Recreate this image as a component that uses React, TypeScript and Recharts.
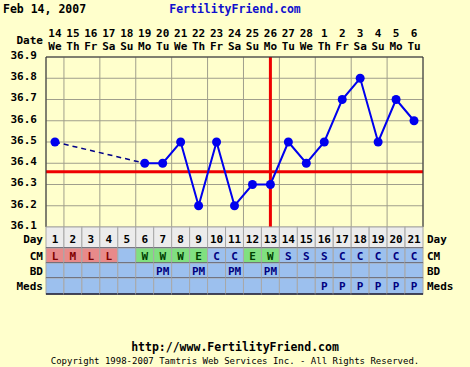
import React from 'react';
import {
  ComposedChart,
  Line,
  XAxis,
  YAxis,
  CartesianGrid,
  ReferenceLine,
} from 'recharts';

const cycleDays = [1, 2, 3, 4, 5, 6, 7, 8, 9, 10, 11, 12, 13, 14, 15, 16, 17, 18, 19, 20, 21];
const dates = ['14', '15', '16', '17', '18', '19', '20', '21', '22', '23', '24', '25', '26', '27', '28', '1', '2', '3', '4', '5', '6'];
const weekdays = ['We', 'Th', 'Fr', 'Sa', 'Su', 'Mo', 'Tu', 'We', 'Th', 'Fr', 'Sa', 'Su', 'Mo', 'Tu', 'We', 'Th', 'Fr', 'Sa', 'Su', 'Mo', 'Tu'];
const temps: (number | null)[] = [36.5, null, null, null, null, 36.4, 36.4, 36.5, 36.2, 36.5, 36.2, 36.3, 36.3, 36.5, 36.4, 36.5, 36.7, 36.8, 36.5, 36.7, 36.6];
const cervicalMucus = ['L', 'M', 'L', 'L', '', 'W', 'W', 'W', 'E', 'C', 'C', 'E', 'W', 'S', 'S', 'S', 'C', 'C', 'C', 'C', 'C'];
const intercourse = ['', '', '', '', '', '', 'PM', '', 'PM', '', 'PM', '', 'PM', '', '', '', '', '', '', '', ''];
const meds = ['', '', '', '', '', '', '', '', '', '', '', '', '', '', '', 'P', 'P', 'P', 'P', 'P', 'P'];
const tempTicks = [36.1, 36.2, 36.3, 36.4, 36.5, 36.6, 36.7, 36.8, 36.9];
const coverline = 36.36;
const ovulationDay = 13;

const W = 470;
const H = 367;
const LEFT_W = 46;
const RIGHT_W = 47;
const TOP_H = 57;
const TABLE_H = 67;
const PLOT_W = W - LEFT_W - RIGHT_W;
const CELL_W = PLOT_W / cycleDays.length;

const FONT = '"DejaVu Sans Mono", monospace';
const BG = '#ffffcc';
const BLUE_CELL = '#9cc0ee';
const NAVY = '#000080';

// dashed segment bridges the days with no temperature
const gapLine = temps.map((t, i) => {
  if (t == null) return null;
  const prevMissing = i > 0 && temps[i - 1] == null;
  const nextMissing = i < temps.length - 1 && temps[i + 1] == null;
  return prevMissing || nextMissing ? t : null;
});

const data = cycleDays.map((day, i) => ({ day, temp: temps[i], gap: gapLine[i] }));
const gridTicks = [...cycleDays.map((d) => d - 0.5), cycleDays[cycleDays.length - 1] + 0.5];

function cmColors(v: string) {
  if (v === 'L' || v === 'M' || v === 'H') return { fill: '#e88a8a', text: '#800000' };
  if (v === 'W' || v === 'E') return { fill: '#80e080', text: '#004000' };
  return { fill: BLUE_CELL, text: NAVY };
}

function DateTick(props: any) {
  const { x, y, index } = props;
  return (
    <g fontFamily={FONT} fontWeight="bold" fontSize={11} fill="#000">
      <text x={x} y={y - 20} textAnchor="middle">{dates[index]}</text>
      <text x={x} y={y - 7} textAnchor="middle">{weekdays[index]}</text>
      {index === 0 && (
        <text x={x - CELL_W / 2 - 3} y={y - 13} textAnchor="end">Date</text>
      )}
    </g>
  );
}

const rows = [
  { label: 'Day', h: 21 },
  { label: 'CM', h: 15 },
  { label: 'BD', h: 15 },
  { label: 'Meds', h: 16 },
];

function TableTick(props: any) {
  const { x, y, index } = props;
  const left = x - CELL_W / 2;
  const right = x + CELL_W / 2;
  const cm = cmColors(cervicalMucus[index]);
  const values = [String(cycleDays[index]), cervicalMucus[index], intercourse[index], meds[index]];
  const fills = ['#ececec', cm.fill, BLUE_CELL, BLUE_CELL];
  const textColors = ['#000', cm.text, NAVY, NAVY];
  let top = y;
  const last = index === cycleDays.length - 1;
  return (
    <g fontFamily={FONT} fontWeight="bold">
      {rows.map((r, ri) => {
        const rowTop = top;
        top += r.h;
        const base = rowTop + r.h / 2 + (ri === 0 ? 5 : 4);
        return (
          <g key={r.label}>
            <rect x={left} y={rowTop} width={CELL_W} height={r.h} fill={fills[ri]} stroke="#a8a8a8" strokeWidth={1} />
            <line x1={left} x2={right} y1={rowTop + r.h} y2={rowTop + r.h} stroke="#1a1a33" strokeWidth={1.5} />
            <text x={x} y={base} textAnchor="middle" fontSize={11} fill={textColors[ri]}>
              {values[ri]}
            </text>
            {index === 0 && (
              <text x={left - 3} y={base} textAnchor="end" fontSize={11} fill="#000">{r.label}</text>
            )}
            {last && (
              <text x={right + 4} y={base} textAnchor="start" fontSize={11} fill="#000">{r.label}</text>
            )}
          </g>
        );
      })}
    </g>
  );
}

const yTickStyle = { fontFamily: FONT, fontWeight: 'bold', fontSize: 11, fill: '#000', dy: -2 };

export default function App() {
  return (
    <div style={{ position: 'absolute', left: 0, top: 0, width: W, height: H, background: BG, overflow: 'hidden' }}>
      <div style={{ position: 'absolute', left: 3, top: 2, fontFamily: FONT, fontWeight: 'bold', fontSize: 11.5, color: '#000' }}>
        Feb 14, 2007
      </div>
      <div style={{ position: 'absolute', left: 0, width: W, top: 2, textAlign: 'center', fontFamily: FONT, fontWeight: 'bold', fontSize: 11.5, color: '#1010cc' }}>
        FertilityFriend.com
      </div>
      <ComposedChart
        width={W}
        height={H}
        data={data}
        margin={{ top: 0, right: 0, left: 0, bottom: H - TOP_H - 170 - TABLE_H }}
      >
        <XAxis
          xAxisId="grid"
          type="number"
          dataKey="day"
          domain={[0.5, 21.5]}
          ticks={gridTicks}
          height={0}
          hide
        />
        <XAxis
          xAxisId="top"
          orientation="top"
          type="number"
          dataKey="day"
          domain={[0.5, 21.5]}
          ticks={cycleDays}
          interval={0}
          height={TOP_H}
          tickSize={0}
          tickMargin={0}
          axisLine={{ stroke: '#333' }}
          tick={<DateTick />}
        />
        <XAxis
          xAxisId="table"
          orientation="bottom"
          type="number"
          dataKey="day"
          domain={[0.5, 21.5]}
          ticks={cycleDays}
          interval={0}
          height={TABLE_H}
          tickSize={0}
          tickMargin={0}
          axisLine={false}
          tick={<TableTick />}
        />
        <YAxis
          yAxisId="l"
          domain={[36.1, 36.9]}
          ticks={tempTicks}
          interval={0}
          width={LEFT_W}
          tickLine={false}
          axisLine={{ stroke: '#333' }}
          tickMargin={3}
          tick={yTickStyle}
          tickFormatter={(v: number) => v.toFixed(1)}
        />
        <YAxis
          yAxisId="r"
          orientation="right"
          domain={[36.1, 36.9]}
          ticks={tempTicks}
          interval={0}
          width={RIGHT_W}
          tickLine={false}
          axisLine={{ stroke: '#333' }}
          tickMargin={4}
          tick={yTickStyle}
          tickFormatter={(v: number) => v.toFixed(1)}
        />
        <CartesianGrid xAxisId="grid" yAxisId="l" stroke="#a09f8c" fill={BG} />
        <ReferenceLine xAxisId="grid" yAxisId="l" y={coverline} stroke="#ee0000" strokeWidth={3} />
        <ReferenceLine xAxisId="grid" yAxisId="l" x={ovulationDay} stroke="#ee0000" strokeWidth={3} />
        <Line
          xAxisId="grid"
          yAxisId="l"
          dataKey="gap"
          connectNulls
          stroke="#000088"
          strokeWidth={1.5}
          strokeDasharray="5 4"
          dot={false}
          isAnimationActive={false}
        />
        <Line
          xAxisId="grid"
          yAxisId="l"
          dataKey="temp"
          stroke="#0000ee"
          strokeWidth={2}
          dot={{ r: 4.5, fill: '#0000ee', stroke: 'none' }}
          isAnimationActive={false}
        />
      </ComposedChart>
      <div style={{ position: 'absolute', left: 0, width: W, top: 340, textAlign: 'center', fontFamily: FONT, fontWeight: 'bold', fontSize: 11.5, color: '#000' }}>
        http://www.FertilityFriend.com
      </div>
      <div style={{ position: 'absolute', left: 0, width: W, top: 356, textAlign: 'center', fontFamily: FONT, fontSize: 9, color: '#000' }}>
        Copyright 1998-2007 Tamtris Web Services Inc. - All Rights Reserved.
      </div>
    </div>
  );
}
